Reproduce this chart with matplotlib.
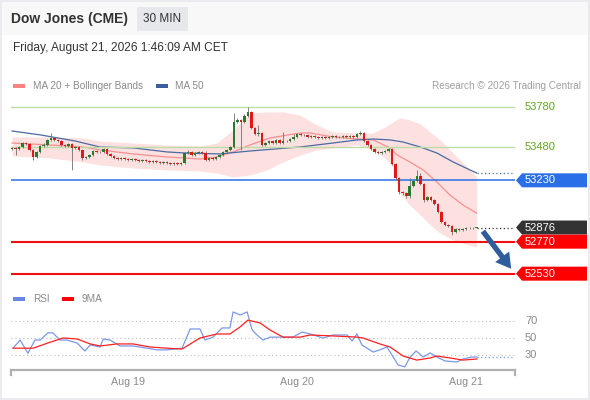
import matplotlib
matplotlib.use("Agg")
import matplotlib.pyplot as plt
import matplotlib.patches as mpatches
import matplotlib.transforms as mtransforms

plt.rcParams["font.family"] = ["Liberation Sans", "DejaVu Sans"]

# ── data: 30 min candles (bar index 0..132) ─────────────────────────────────
first_open = 53465
closes = [
    53473, 53465, 53480, 53510, 53503, 53458, 53405, 53443, 53488, 53495,
    53533, 53548, 53533, 53525, 53495, 53488, 53503, 53473, 53480, 53458,
    53398, 53405, 53420, 53450, 53443, 53443, 53465, 53428, 53413, 53398,
    53390, 53398, 53390, 53383, 53390, 53383, 53375, 53383, 53375, 53368,
    53375, 53368, 53360, 53368, 53360, 53353, 53360, 53353, 53360, 53435,
    53442, 53420, 53435, 53443, 53435, 53383, 53398, 53390, 53405, 53420,
    53443, 53458, 53480, 53668, 53683, 53668, 53713, 53743, 53623, 53578,
    53585, 53495, 53510, 53525, 53510, 53533, 53510, 53525, 53525, 53540,
    53555, 53578, 53570, 53570, 53555, 53563, 53555, 53548, 53555, 53548,
    53555, 53563, 53555, 53555, 53563, 53555, 53563, 53555, 53578, 53585,
    53525, 53495, 53465, 53443, 53435, 53443, 53450, 53465, 53353, 53248,
    53143, 53135, 53113, 53188, 53225, 53263, 53203, 53083, 53105, 53083,
    53053, 52993, 52918, 52895, 52888, 52843, 52865, 52858, 52865, 52873,
    52873, 52876, 52876,
]
upper_wick = [
    8, 6, 8, 10, 8, 6, 8, 10, 8, 12,
    10, 37, 8, 6, 8, 10, 8, 6, 8, 6,
    8, 6, 10, 8, 6, 8, 8, 6, 8, 6,
    6, 8, 6, 6, 8, 6, 6, 8, 6, 6,
    8, 6, 6, 8, 6, 6, 8, 6, 6, 8,
    12, 10, 8, 10, 8, 12, 8, 6, 8, 8,
    10, 8, 10, 67, 12, 10, 12, 37, 10, 8,
    60, 10, 8, 10, 8, 10, 8, 70, 8, 10,
    20, 10, 8, 8, 6, 8, 6, 8, 6, 8,
    6, 8, 6, 8, 6, 8, 6, 8, 10, 12,
    8, 8, 8, 8, 6, 8, 8, 10, 8, 8,
    8, 10, 8, 60, 10, 45, 22, 10, 8, 10,
    8, 8, 8, 8, 8, 8, 8, 6, 6, 6,
    6, 6, 6,
]
lower_wick = [
    10, 45, 8, 6, 8, 10, 20, 8, 6, 8,
    8, 6, 8, 10, 8, 6, 8, 165, 8, 10,
    15, 8, 6, 8, 8, 6, 8, 10, 6, 8,
    6, 6, 8, 6, 6, 8, 6, 6, 8, 6,
    6, 8, 6, 6, 8, 6, 6, 8, 6, 8,
    8, 10, 8, 8, 10, 8, 8, 10, 8, 8,
    8, 10, 8, 8, 10, 210, 8, 10, 8, 10,
    12, 10, 8, 10, 8, 10, 8, 10, 8, 8,
    8, 8, 6, 8, 6, 8, 6, 8, 6, 8,
    6, 8, 6, 8, 6, 8, 6, 8, 8, 8,
    10, 8, 8, 8, 8, 6, 8, 8, 10, 12,
    15, 15, 15, 15, 10, 8, 10, 12, 10, 8,
    10, 10, 8, 8, 8, 23, 8, 6, 6, 6,
    6, 6, 6,
]

# MA 50
ma50_idx = [0, 8.2, 17.9, 25, 34.4, 44, 49.1, 59, 67.6, 81.8, 91.2, 98,
            102.6, 107.4, 111, 116, 120.7, 125.3, 130.1, 132]
ma50_val = [53600, 53570, 53525, 53480, 53473, 53443, 53435, 53428, 53450,
            53480, 53510, 53533, 53540, 53533, 53518, 53480, 53435, 53368,
            53308, 53285]

# MA 20
ma20_idx = [0, 10.8, 20.2, 25, 34.4, 44, 48.6, 53.4, 58.2, 62.8, 67.6, 73.3,
            81.8, 84.7, 91.2, 98, 102.6, 107.4, 109.4, 113, 116.8, 120.7,
            124.4, 128.1, 132]
ma20_val = [53510, 53495, 53480, 53458, 53428, 53405, 53398, 53390, 53405,
            53443, 53495, 53548, 53585, 53585, 53555, 53540, 53533, 53473,
            53420, 53368, 53308, 53218, 53120, 53045, 52985]

# Bollinger bands
bb_idx = [0, 10.8, 20.2, 25, 34.4, 44, 53.4, 58.2, 62.8, 67.6, 72.4, 77,
          81.8, 86.6, 91.2, 98, 102.6, 106, 108.2, 110.2, 113, 116, 118.8,
          121.6, 125.3, 128.7, 132]
bb_upper = [53555, 53555, 53548, 53525, 53510, 53495, 53488, 53510, 53608,
            53735, 53743, 53743, 53720, 53645, 53593, 53585, 53585, 53630,
            53668, 53698, 53683, 53653, 53593, 53533, 53435, 53345, 53255]
bb_lower = [53413, 53398, 53368, 53345, 53323, 53308, 53300, 53285, 53255,
            53270, 53308, 53368, 53420, 53458, 53473, 53495, 53458, 53398,
            53330, 53135, 53045, 52970, 52895, 52835, 52783, 52753, 52730]

# RSI and its 9 period MA
rsi_idx = [0.3, 2.3, 4.5, 6.5, 8, 10.2, 11.6, 13.6, 15.6, 18.5, 20.7, 22.2,
           25, 25.9, 27.8, 30.7, 34.4, 38.4, 41.2, 44, 48.3, 50.6, 53.4,
           54.8, 57.1, 59.7, 61.9, 62.8, 64.8, 66.8, 68.2, 69.6, 71.3, 73.3,
           76.1, 79.8, 82.4, 84.7, 88.4, 91.2, 95.2, 96.6, 98, 99.4, 102.6,
           104.5, 106.5, 107.4, 109.7, 111.6, 113.1, 114.8, 116.8, 118.8,
           120.7, 123, 126.4, 128.1, 130.7, 132.1]
rsi_val = [38, 47.6, 32, 47.6, 47.6, 56, 56, 47.6, 47.6, 44, 34.7, 41.8,
           39.4, 48.8, 47.6, 40.6, 40.6, 38, 36, 36, 38, 60.6, 60.6, 47.6,
           51, 61.8, 61.8, 80.6, 77, 80.6, 59.4, 53.5, 47.6, 51, 51, 51, 57,
           54.7, 50, 53.5, 53.5, 46.5, 54.7, 41.8, 33.5, 36, 39.4, 33.5,
           18.2, 16, 27.6, 34.7, 27.6, 32.4, 27.6, 23, 21.8, 25.3, 27.6, 27.6]
rsi_ma_idx = [0.3, 6, 10.8, 14.5, 18.5, 22.2, 25, 29.8, 34.4, 39.2, 44, 48.3,
              53.4, 58.2, 61.9, 64.8, 67, 70.5, 73.3, 77, 81.8, 84.7, 91.2,
              98, 99.7, 104.5, 107.4, 111.1, 115, 118.8, 120.7, 124.4, 128.1,
              132.1]
rsi_ma_val = [38, 38, 45, 50, 48.8, 43, 40.6, 43, 43, 39.4, 38, 37, 50, 54.7,
              54.7, 63, 71, 67.6, 59.4, 51, 51, 53.5, 52.4, 51, 50, 43, 39.4,
              28.8, 24, 26.5, 28.8, 26.5, 24, 25.3]

day_ticks = [33, 81, 129]
day_labels = ["Aug 19", "Aug 20", "Aug 21"]

resistances = [53780, 53480]
pivot = 53230
supports = [52770, 52530]
last_price = 52876
rsi_levels = [70, 50, 30]

# ── colours ──────────────────────────────────────────────────────────────
GREEN_LINE = "#bcdca6"
GREEN_TEXT = "#5ea91e"
BLUE_LINE = "#2a6fe8"
RED_LINE = "#f01010"
DARK_BOX = "#333333"
MA50_COL = "#4a6aa3"
MA20_COL = "#f59090"
BAND_COL = "#fde0e0"
UP_COL = "#2b7a2b"
DOWN_COL = "#e01818"
GREY_TXT = "#8a8a8a"

W, H = 590, 400
fig = plt.figure(figsize=(W / 100, H / 100), dpi=100, facecolor="white")


def fx(px):
    return px / W


def fy(py):
    return 1 - py / H


# frame + header band
fig.add_artist(mpatches.Rectangle((0, 0), 1, 1, transform=fig.transFigure,
                                  facecolor="#e9ebee", edgecolor="none", zorder=-3))
fig.add_artist(mpatches.Rectangle((fx(2), fy(398)), fx(586), 396 / H,
                                  transform=fig.transFigure,
                                  facecolor="white", edgecolor="none", zorder=-2))
fig.add_artist(mpatches.Rectangle((fx(2), fy(35)), fx(586), 33 / H,
                                  transform=fig.transFigure,
                                  facecolor="#f8f8f9", edgecolor="none", zorder=-1))

fig.text(fx(11), fy(19), "Dow Jones (CME)", fontsize=10, fontweight="bold",
         color="#333333", va="center")
fig.add_artist(mpatches.Rectangle((fx(137), fy(31)), fx(51), 24 / H,
                                  transform=fig.transFigure,
                                  facecolor="#e6e8eb", edgecolor="none"))
fig.text(fx(162.5), fy(19), "30 MIN", fontsize=8.5, color="#333333",
         va="center", ha="center")
fig.text(fx(13), fy(48), "Friday, August 21, 2026 1:46:09 AM CET",
         fontsize=8.6, color="#333333", va="center")

# legend top
fig.add_artist(mpatches.Rectangle((fx(13), fy(88)), fx(12), 4 / H,
                                  transform=fig.transFigure,
                                  facecolor="#ff8080", edgecolor="none"))
fig.text(fx(33), fy(86), "MA 20 + Bollinger Bands", fontsize=7.2,
         color=GREY_TXT, va="center")
fig.add_artist(mpatches.Rectangle((fx(156), fy(88)), fx(12), 4 / H,
                                  transform=fig.transFigure,
                                  facecolor="#3b5e9c", edgecolor="none"))
fig.text(fx(175), fy(86), "MA 50", fontsize=7.2, color=GREY_TXT, va="center")
fig.text(fx(581), fy(86), "Research \u00a9 2026 Trading Central", fontsize=7.2,
         color="#a0a0a0", va="center", ha="right")

# ── price panel ──────────────────────────────────────────────────────────
XMIN, XMAX = -0.3, 142.9
ax = fig.add_axes([fx(11), fy(285), fx(504), 195 / H])
ax.set_xlim(XMIN, XMAX)
ax.set_ylim(52445, 53907.5)
ax.axis("off")

ax.fill_between(bb_idx, bb_lower, bb_upper, color=BAND_COL, lw=0, zorder=1)
ax.plot(ma20_idx, ma20_val, color=MA20_COL, lw=0.9, zorder=2)
ax.plot(ma50_idx, ma50_val, color=MA50_COL, lw=0.9, zorder=2)
ax.plot([ma50_idx[-1], XMAX], [ma50_val[-1]] * 2, color=MA50_COL, lw=0.9,
        ls=(0, (1, 2)), zorder=2)

for lvl in resistances:
    ax.axhline(lvl, color=GREEN_LINE, lw=1.0, zorder=3)
ax.axhline(pivot, color=BLUE_LINE, lw=1.1, zorder=3)
for lvl in supports:
    ax.axhline(lvl, color=RED_LINE, lw=1.5, zorder=3)

opens = [first_open] + closes[:-1]
for i, (o, c) in enumerate(zip(opens, closes)):
    top, bot = max(o, c), min(o, c)
    ax.vlines(i, bot - lower_wick[i], top + upper_wick[i], color="#707070",
              lw=0.6, zorder=4)
    col = UP_COL if c >= o else DOWN_COL
    ax.bar(i, max(top - bot, 5), bottom=bot if top - bot >= 5 else bot - 2.5,
           width=0.72, color=col, edgecolor="none", zorder=5)

ax.plot([len(closes) - 1, XMAX], [last_price] * 2, color="#333333", lw=0.9,
        ls=(0, (1, 2)), zorder=3)

arrow = mpatches.FancyArrowPatch(
    (133.3, 52865), (142.3, 52550),
    arrowstyle="simple,head_length=0.9,head_width=1.05,tail_width=0.32",
    mutation_scale=12, color="#2f5c9c", lw=0, zorder=6, clip_on=False)
ax.add_patch(arrow)

# right side labels
trans = mtransforms.blended_transform_factory(fig.transFigure, ax.transData)
half = 52.5  # 7 px in price units


def tag(y, text, face):
    poly = mpatches.Polygon(
        [(fx(516), y), (fx(522), y + half), (fx(587), y + half),
         (fx(587), y - half), (fx(522), y - half)],
        closed=True, transform=trans, facecolor=face, edgecolor="none",
        clip_on=False, zorder=7)
    ax.add_patch(poly)
    ax.text(fx(525), y, text, transform=trans, color="white", fontsize=8,
            va="center", ha="left", clip_on=False, zorder=8)


for lvl in resistances:
    ax.text(fx(525), lvl, str(lvl), transform=trans, color=GREEN_TEXT,
            fontsize=8, va="center", ha="left", clip_on=False)
tag(pivot, str(pivot), BLUE_LINE)
tag(last_price, str(last_price), DARK_BOX)
for lvl in supports:
    tag(lvl, str(lvl), "#ff0000")

# ── RSI panel ────────────────────────────────────────────────────────────
fig.add_artist(mpatches.Rectangle((fx(13), fy(301)), fx(12), 4 / H,
                                  transform=fig.transFigure,
                                  facecolor="#6688e0", edgecolor="none"))
fig.text(fx(33), fy(299), "RSI", fontsize=7.2, color=GREY_TXT, va="center")
fig.add_artist(mpatches.Rectangle((fx(62), fy(301)), fx(12), 4 / H,
                                  transform=fig.transFigure,
                                  facecolor="#ff0000", edgecolor="none"))
fig.text(fx(82), fy(299), "9MA", fontsize=7.2, color=GREY_TXT, va="center")

rax = fig.add_axes([fx(11), fy(370), fx(504), 60 / H])
rax.set_xlim(XMIN, XMAX)
rax.set_ylim(12.35, 82.9)
rax.set_facecolor("none")
for name in ("top", "left", "right"):
    rax.spines[name].set_visible(False)
rax.spines["bottom"].set_color("#b0b0b0")
rax.spines["bottom"].set_linewidth(1.6)
rax.set_yticks([])
rax.set_xticks(day_ticks)
rax.set_xticklabels(day_labels)
rax.tick_params(axis="x", length=0, pad=5, labelsize=7.7, labelcolor=GREY_TXT)

for lvl in rsi_levels:
    rax.axhline(lvl, color="#bdbdbd", lw=0.8, ls=(0, (1, 2.5)), zorder=1)
    rax.text(fx(525), lvl, str(lvl), transform=mtransforms.blended_transform_factory(
        fig.transFigure, rax.transData), color=GREY_TXT, fontsize=8,
        va="center", ha="left", clip_on=False)

rax.plot(rsi_idx, rsi_val, color="#7b98ea", lw=0.9, zorder=2)
rax.plot([rsi_idx[-1], XMAX], [rsi_val[-1]] * 2, color="#7b98ea", lw=0.9,
         ls=(0, (1, 2)), zorder=2)
rax.plot(rsi_ma_idx, rsi_ma_val, color="#ff2020", lw=0.9, zorder=3)

for xe in (XMIN, XMAX):
    rax.plot([xe, xe], [12.35, 6.5], color="#b0b0b0", lw=1.6, clip_on=False)

fig.savefig("out.png", dpi=100, facecolor="white")
